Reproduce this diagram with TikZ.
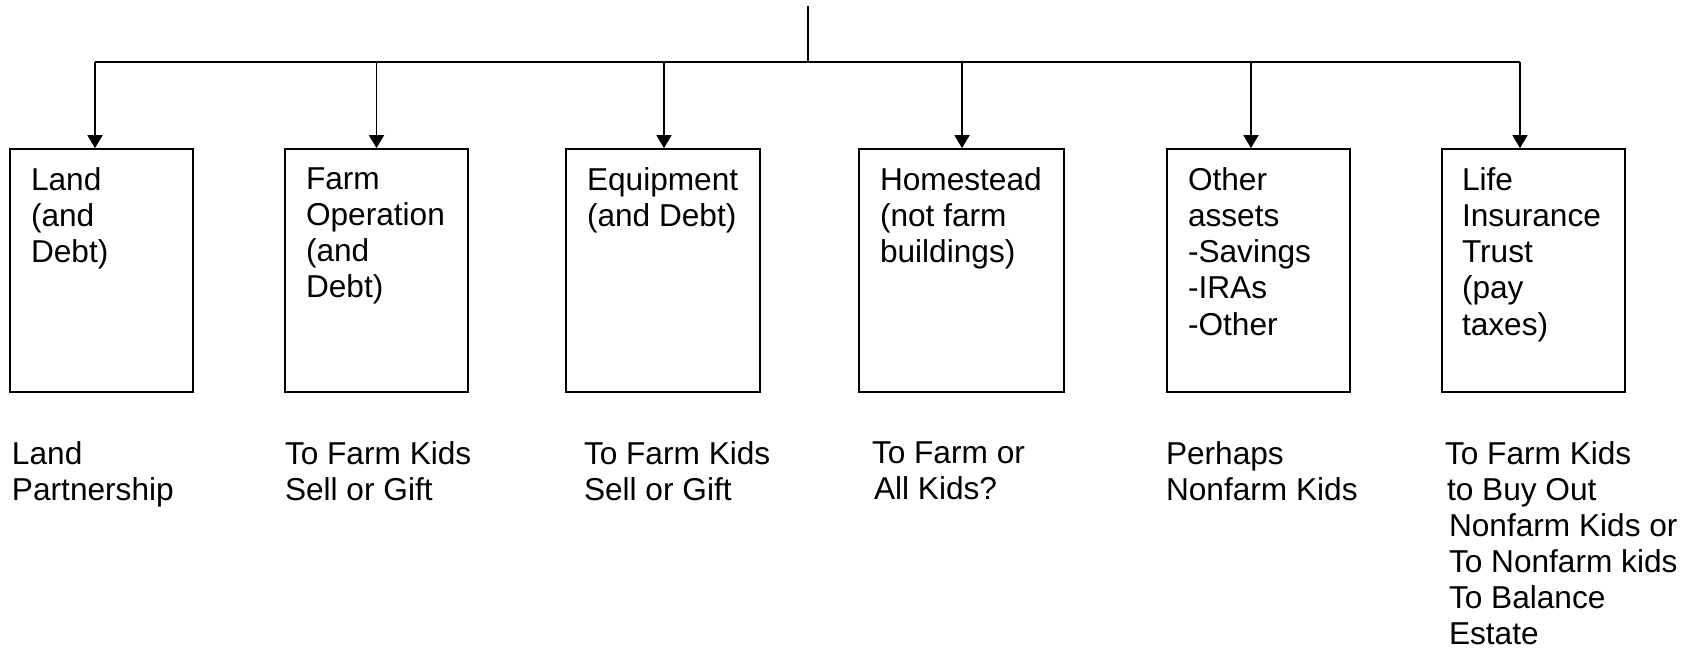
\documentclass[tikz,border=0pt]{standalone}
\usepackage{fontspec}
\setmainfont{Liberation Sans}
\usetikzlibrary{arrows.meta, positioning}
\tikzset{
  every picture/.style={line width=1pt},
  asset/.style={draw, minimum height=4.86cm, minimum width=#1, inner sep=0pt},
  asset/.default=3.66cm,
  boxtext/.style={anchor=north west, align=left, inner sep=0pt, font=\fontsize{18}{20.5}\selectfont},
  arrow/.style={-{Triangle[length=0.26cm, width=0.3cm]}},
}

\begin{document}
\begin{tikzpicture}
  \useasboundingbox (0,0) rectangle (34.02,-13.0);
  % the six asset boxes
  \node[asset] (land) at (2.03,-5.41) {};
  \node[asset] (farmop) at (7.53,-5.41) {};
  \node[asset=3.88cm] (equip) at (13.26,-5.41) {};
  \node[asset=4.10cm] (home) at (19.23,-5.41) {};
  \node[asset] (other) at (25.17,-5.41) {};
  \node[asset] (life) at (30.67,-5.41) {};
  \node[boxtext] (landtxt) at ([shift={(0.42,-0.38)}]land.north west) {Land\\(and\\Debt)};
  \node[boxtext] (farmoptxt) at ([shift={(0.42,-0.38)}]farmop.north west) {Farm\\Operation\\(and\\Debt)};
  \node[boxtext] (equiptxt) at ([shift={(0.42,-0.38)}]equip.north west) {Equipment\\(and Debt)};
  \node[boxtext] (hometxt) at ([shift={(0.42,-0.38)}]home.north west) {Homestead\\(not farm\\buildings)};
  \node[boxtext] (othertxt) at ([shift={(0.42,-0.38)}]other.north west) {Other\\assets\\-Savings\\-IRAs\\-Other};
  \node[boxtext] (lifetxt) at ([shift={(0.40,-0.38)}]life.north west) {Life\\Insurance\\Trust\\(pay\\taxes)};
  % where each asset goes
  \node[boxtext] (landto) at ([shift={(0.04,-0.96)}]land.south west) {Land\\Partnership};
  \node[boxtext] (farmopto) at ([shift={(0.0,-0.96)}]farmop.south west) {To Farm Kids\\Sell or Gift};
  \node[boxtext] (equipto) at ([shift={(0.36,-0.96)}]equip.south west) {To Farm Kids\\Sell or Gift};
  \node[boxtext] (hometo) at ([shift={(0.26,-0.96)}]home.south west) {To Farm or\\\hspace*{0.04cm}All Kids?};
  \node[boxtext] (otherto) at ([shift={(-0.02,-0.96)}]other.south west) {Perhaps\\Nonfarm Kids};
  \node[boxtext] (lifeto) at ([shift={(0.06,-0.96)}]life.south west)
    {To Farm Kids\\\hspace*{0.04cm}to Buy Out\\\hspace*{0.08cm}Nonfarm Kids or\\\hspace*{0.08cm}To Nonfarm kids\\\hspace*{0.08cm}To Balance\\\hspace*{0.08cm}Estate};
  % connectors
  \coordinate (top) at (16.16,-0.12);
  \coordinate (hub) at (16.16,-1.24);
  \coordinate (c1) at (1.90,-1.24);
  \coordinate (c2) at (7.53,-1.24);
  \coordinate (c3) at (13.28,-1.24);
  \coordinate (c4) at (19.24,-1.24);
  \coordinate (c5) at (25.02,-1.24);
  \coordinate (c6) at (30.40,-1.24);
  \draw (top) -- (hub);
  \draw (c1) -- (c6);
  \draw[arrow] (c1) -- (c1 |- land.north);
  \draw[arrow] (c2) -- (c2 |- farmop.north);
  \draw[arrow] (c3) -- (c3 |- equip.north);
  \draw[arrow] (c4) -- (c4 |- home.north);
  \draw[arrow] (c5) -- (c5 |- other.north);
  \draw[arrow] (c6) -- (c6 |- life.north);
\end{tikzpicture}
\end{document}
